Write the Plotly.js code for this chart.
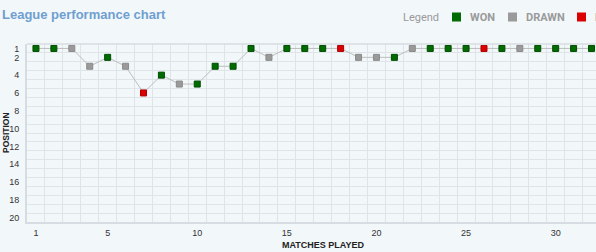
<!DOCTYPE html>
<html><head><meta charset="utf-8">
<script src="https://cdn.plot.ly/plotly-3.0.1.min.js"></script>
<style>html,body{margin:0;padding:0;background:#f2f7fa;}</style>
</head><body><div id="chart" style="width:596px;height:252px;"></div>
<script>
const matches = [1,2,3,4,5,6,7,8,9,10,11,12,13,14,15,16,17,18,19,20,21,22,23,24,25,26,27,28,29,30,31,32];
const positions = [1,1,1,3,2,3,6,4,5,5,3,3,1,2,1,1,1,1,2,2,2,1,1,1,1,1,1,1,1,1,1,1];
const results = ['W','W','D','D','W','D','L','W','D','W','W','W','W','D','W','W','W','L','D','D','W','D','W','W','W','L','W','D','W','W','W','W'];
const yTicks = [1,2,4,6,8,10,12,14,16,18,20];
const xTicks = [1,5,10,15,20,25,30];
const legendLabels = ['WON','DRAWN','LOST'];

const colorMap = {W:'#006b00', D:'#9a9a9a', L:'#dd0000'};
const borderMap = {W:'#004d00', D:'#8a8a8a', L:'#b00000'};
const legendColors = ['#006b00','#9a9a9a','#dd0000'];

const L = 27, R = 596, T = 44, B = 222;
const px2x = p => (p - L) / (R - L);
const py2y = p => (B - p) / (B - T);

const trace = {
  x: matches, y: positions, type: 'scatter', mode: 'lines+markers',
  line: {color: '#bdbdbd', width: 1},
  marker: {symbol: 'square', size: 6,
    color: results.map(r => colorMap[r]),
    line: {color: results.map(r => borderMap[r]), width: 1}},
  hoverinfo: 'x+y', cliponaxis: false
};

const gridColor = '#dfe4e8';
const shapes = [
  {type:'line', xref:'paper', yref:'paper', x0:0, x1:1, y0:1, y1:1, line:{color:'#d6dce1', width:1.5}}
];
const annotations = [
  {text:'League performance chart', xref:'paper', yref:'paper', x:px2x(0), y:py2y(15), xanchor:'left', yanchor:'middle', showarrow:false,
   font:{family:'Liberation Sans, Arial, sans-serif', size:13, color:'#6f9fd0', weight:'bold'}},
  {text:'Legend', xref:'paper', yref:'paper', x:px2x(401), y:py2y(17.5), xanchor:'left', yanchor:'middle', showarrow:false,
   font:{family:'Roboto, Liberation Sans, sans-serif', size:11, color:'#9a9a9a'}},
  {text:'MATCHES PLAYED', xref:'paper', yref:'paper', x:px2x(323), y:py2y(244.5), xanchor:'center', yanchor:'middle', showarrow:false,
   font:{family:'Liberation Sans, Arial, sans-serif', size:9, color:'#222', weight:'bold'}},
  {text:'POSITION', xref:'paper', yref:'paper', x:px2x(6), y:py2y(133), xanchor:'center', yanchor:'middle', textangle:-90, showarrow:false,
   font:{family:'Liberation Sans, Arial, sans-serif', size:8.5, color:'#222', weight:'bold'}}
];
const sqX = [452, 508, 577];
const txX = [468, 524, 593];
legendLabels.forEach((lab, i) => {
  shapes.push({type:'rect', xref:'paper', yref:'paper', x0:px2x(sqX[i]), x1:px2x(sqX[i]+9), y0:py2y(21.5), y1:py2y(12.5),
    fillcolor:legendColors[i], line:{width:0}});
  annotations.push({text:lab, xref:'paper', yref:'paper', x:px2x(txX[i]), y:py2y(17.5), xanchor:'left', yanchor:'middle', showarrow:false,
    font:{family:'Roboto, Liberation Sans, sans-serif', size:11, color:'#9a9a9a', weight:'bold'}});
});

const layout = {
  width: 596, height: 252,
  margin: {l: L, r: 596 - R, t: T, b: 252 - B, pad: 0},
  paper_bgcolor: '#f2f7fa', plot_bgcolor: '#f2f7fa',
  showlegend: false,
  xaxis: {range: [0.5, 32.25], tickmode: 'array', tickvals: xTicks, ticktext: xTicks.map(String),
    showgrid: false, zeroline: false, showline: true, linecolor: '#d6dce1', linewidth: 2,
    ticks: '', ticklabelstandoff: 1,
    tickfont: {family: 'Liberation Sans, Arial, sans-serif', size: 9, color: '#333'},
    minor: {tickmode: 'linear', tick0: 0.5, dtick: 1, showgrid: true, gridcolor: gridColor, gridwidth: 1, ticks: ''}},
  yaxis: {range: [20.5, 0.5], tickmode: 'array', tickvals: yTicks, ticktext: yTicks.map(String),
    showgrid: false, zeroline: false, showline: true, linecolor: '#d6dce1', linewidth: 2,
    ticks: '', ticklabelstandoff: 4,
    tickfont: {family: 'Liberation Sans, Arial, sans-serif', size: 9, color: '#333'},
    minor: {tickmode: 'linear', tick0: 0.5, dtick: 1, showgrid: true, gridcolor: gridColor, gridwidth: 1, ticks: ''}},
  shapes: shapes, annotations: annotations
};
Plotly.newPlot('chart', [trace], layout, {staticPlot: true, displayModeBar: false});
</script></body></html>
